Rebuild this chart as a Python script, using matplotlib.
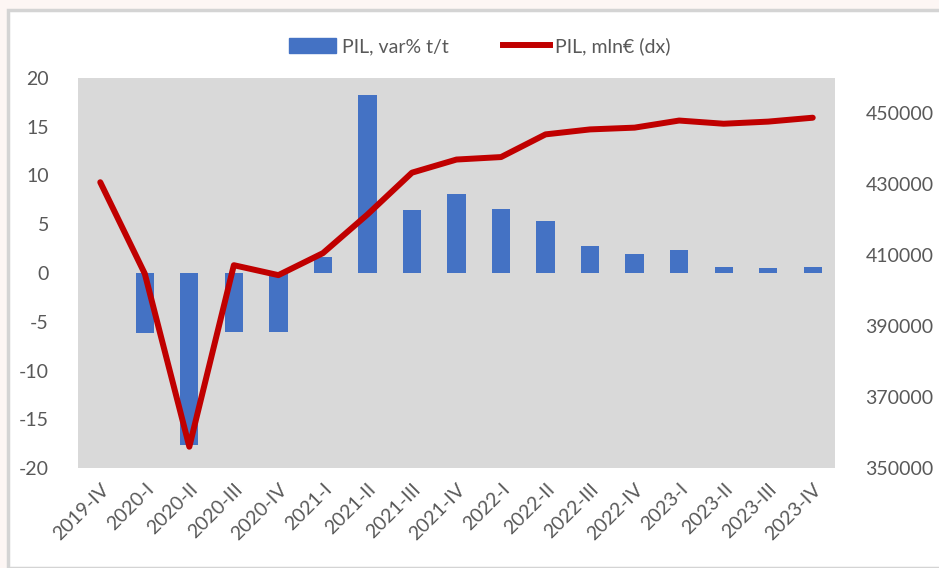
import matplotlib.pyplot as plt
from matplotlib.patches import Rectangle
from matplotlib.lines import Line2D
import numpy as np

quarters = ['2019-IV', '2020-I', '2020-II', '2020-III', '2020-IV',
            '2021-I', '2021-II', '2021-III', '2021-IV',
            '2022-I', '2022-II', '2022-III', '2022-IV',
            '2023-I', '2023-II', '2023-III', '2023-IV']
var_pct = [np.nan, -6.2, -17.6, -6.1, -6.0, 1.6, 18.3, 6.5, 8.1,
           6.6, 5.3, 2.8, 2.0, 2.4, 0.65, 0.5, 0.65]
pil_mln = [430600, 404800, 356000, 407200, 404400, 410600, 421500, 433300,
           437000, 437700, 444100, 445500, 446000, 448000, 447100, 447700, 448800]

plt.rcParams['font.family'] = ['Lato', 'DejaVu Sans']
plt.rcParams['axes.unicode_minus'] = False
txt = '#595959'

fig = plt.figure(figsize=(9.39, 5.68), dpi=100)
fig.patch.set_facecolor('#fdf6f4')
fig.patches.append(Rectangle((8/939, 0), 1, 1 - 10/568, transform=fig.transFigure,
                             facecolor='white', edgecolor='#d4d4d4', linewidth=2.5,
                             zorder=-5))

ax = fig.add_axes([78/939, 1 - 468/568, 757/939, 390/568])
ax.set_facecolor('#d9d9d9')
x = np.arange(len(quarters))
ax.bar(x, var_pct, width=0.41, color='#4472C4', zorder=2)
ax.set_xlim(-0.5, len(quarters) - 0.5)
ax.set_ylim(-20, 20)
ax.set_yticks(range(-20, 21, 5))
ax.set_xticks(x)
ax.set_xticklabels(quarters, rotation=45, ha='right', rotation_mode='anchor')
for s in ax.spines.values():
    s.set_visible(False)
ax.tick_params(axis='both', length=0, labelsize=14, labelcolor=txt)
ax.tick_params(axis='y', pad=21)
ax.tick_params(axis='x', pad=9)

ax2 = ax.twinx()
ax2.plot(x, pil_mln, color='#C00000', linewidth=4.3, solid_capstyle='round',
         solid_joinstyle='round', zorder=3)
ax2.set_ylim(350000, 460000)
ax2.set_yticks(range(350000, 450001, 20000))
for s in ax2.spines.values():
    s.set_visible(False)
ax2.tick_params(axis='y', length=0, labelsize=14, labelcolor=txt, pad=22)

handles = [Rectangle((0, 0), 1, 1, color='#4472C4'),
           Line2D([0], [0], color='#C00000', linewidth=4.3)]
fig.legend(handles, ['PIL, var% t/t', 'PIL, mln€ (dx)'], loc='center',
           bbox_to_anchor=(480/939, 1 - 46/568), ncol=2, frameon=False,
           fontsize=14, labelcolor=txt, handlelength=2.4, handleheight=0.8,
           columnspacing=2.8, handletextpad=0.3)

fig.savefig('out.png', dpi=100)
